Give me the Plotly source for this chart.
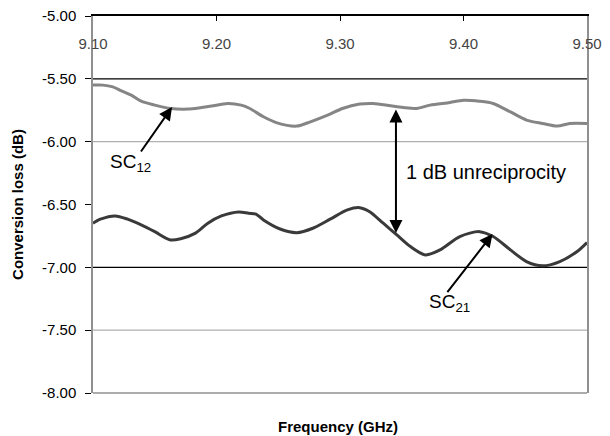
import plotly.graph_objects as go

# ---------------- data ----------------
freq_sc12 = [9.100, 9.108, 9.116, 9.123, 9.131, 9.139, 9.150, 9.163, 9.177, 9.188,
             9.196, 9.209, 9.220, 9.227, 9.238, 9.249, 9.265, 9.276, 9.290, 9.302,
             9.316, 9.327, 9.341, 9.351, 9.362, 9.373, 9.389, 9.400, 9.413, 9.424,
             9.438, 9.451, 9.464, 9.476, 9.486, 9.500]
loss_sc12 = [-5.550, -5.550, -5.564, -5.596, -5.630, -5.678, -5.709, -5.736, -5.741, -5.728,
             -5.717, -5.696, -5.709, -5.736, -5.802, -5.850, -5.876, -5.842, -5.789, -5.736,
             -5.701, -5.696, -5.715, -5.728, -5.736, -5.709, -5.688, -5.670, -5.678, -5.696,
             -5.763, -5.828, -5.855, -5.876, -5.855, -5.855]

freq_sc21 = [9.100, 9.106, 9.118, 9.128, 9.139, 9.150, 9.162, 9.171, 9.183, 9.193,
             9.204, 9.218, 9.226, 9.232, 9.238, 9.252, 9.265, 9.278, 9.292, 9.306,
             9.316, 9.324, 9.335, 9.346, 9.357, 9.369, 9.381, 9.397, 9.413, 9.424,
             9.438, 9.451, 9.464, 9.478, 9.492, 9.500]
loss_sc21 = [-6.649, -6.617, -6.591, -6.617, -6.662, -6.716, -6.780, -6.772, -6.728, -6.649,
             -6.591, -6.559, -6.570, -6.577, -6.623, -6.697, -6.724, -6.689, -6.617, -6.543,
             -6.525, -6.557, -6.649, -6.742, -6.835, -6.901, -6.861, -6.755, -6.716, -6.755,
             -6.861, -6.954, -6.988, -6.954, -6.874, -6.803]

x_ticks = [9.10, 9.20, 9.30, 9.40, 9.50]
x_tick_labels = ["9.10", "9.20", "9.30", "9.40", "9.50"]
y_ticks = [-5.00, -5.50, -6.00, -6.50, -7.00, -7.50, -8.00]
y_tick_labels = ["-5.00", "-5.50", "-6.00", "-6.50", "-7.00", "-7.50", "-8.00"]
dark_grid = [-5.50, -7.00]
light_grid = [-6.00, -7.50]

FONT = "Liberation Sans, Arial, sans-serif"

fig = go.Figure()
fig.add_trace(go.Scatter(x=freq_sc12, y=loss_sc12, mode="lines", name="SC12",
                         line=dict(color="#858585", width=3, shape="spline", smoothing=0.8),
                         showlegend=False))
fig.add_trace(go.Scatter(x=freq_sc21, y=loss_sc21, mode="lines", name="SC21",
                         line=dict(color="#3a3a3a", width=3, shape="spline", smoothing=0.8),
                         showlegend=False))

shapes = []
for g in dark_grid:
    shapes.append(dict(type="line", xref="paper", yref="y", x0=0, x1=1, y0=g, y1=g,
                       line=dict(color="black", width=1.2), layer="below"))
for g in light_grid:
    shapes.append(dict(type="line", xref="paper", yref="y", x0=0, x1=1, y0=g, y1=g,
                       line=dict(color="#b0b0b0", width=1.2), layer="below"))
# bottom frame line (grey)
shapes.append(dict(type="line", xref="paper", yref="paper", x0=0, x1=1, y0=0, y1=0,
                   line=dict(color="#909090", width=1.5)))

annotations = [
    # SC12 arrow + label
    dict(x=9.164, y=-5.725, ax=9.138, ay=-6.09, xref="x", yref="y", axref="x", ayref="y",
         text="", showarrow=True, arrowhead=2, arrowsize=1.3, arrowwidth=2, arrowcolor="black"),
    dict(x=9.130, y=-6.17, xref="x", yref="y", text="SC<sub>12</sub>", showarrow=False,
         font=dict(family=FONT, size=19, color="black")),
    # SC21 arrow + label
    dict(x=9.4235, y=-6.735, ax=9.386, ay=-7.21, xref="x", yref="y", axref="x", ayref="y",
         text="", showarrow=True, arrowhead=2, arrowsize=1.3, arrowwidth=2, arrowcolor="black"),
    dict(x=9.389, y=-7.28, xref="x", yref="y", text="SC<sub>21</sub>", showarrow=False,
         font=dict(family=FONT, size=19, color="black")),
    # double arrow
    dict(x=9.3453, y=-6.726, ax=9.3453, ay=-5.733, xref="x", yref="y", axref="x", ayref="y",
         text="", showarrow=True, arrowhead=2, startarrowhead=2, arrowside="end+start",
         arrowsize=1.3, startarrowsize=1.3, arrowwidth=2, arrowcolor="black"),
    dict(x=9.3515, y=-6.24, xref="x", yref="y", text="1 dB unreciprocity", showarrow=False,
         xanchor="left", font=dict(family=FONT, size=20, color="black")),
]

fig.update_layout(
    width=610, height=436,
    margin=dict(l=93, r=23, t=16, b=43, autoexpand=False),
    paper_bgcolor="white", plot_bgcolor="white",
    font=dict(family=FONT, size=14, color="black"),
    shapes=shapes, annotations=annotations,
    xaxis=dict(range=[9.10, 9.50], side="top", tickvals=x_ticks, ticktext=x_tick_labels,
               ticks="inside", ticklen=5, tickcolor="black", tickwidth=1,
               ticklabelposition="inside", ticklabelstandoff=18, ticklabeloverflow="allow",
               showline=True, linecolor="black", linewidth=1.5, showgrid=False, zeroline=False,
               automargin=False,
               tickfont=dict(family=FONT, size=15),
               title=None),
    yaxis=dict(range=[-8.0, -5.0], tickvals=y_ticks, ticktext=y_tick_labels,
               ticks="outside", ticklen=6, tickcolor="black", tickwidth=1,
               ticklabelstandoff=6, automargin=False,
               showline=True, linecolor="#909090", linewidth=1.5, mirror=True,
               showgrid=False, zeroline=False,
               tickfont=dict(family=FONT, size=15)),
)
fig.add_annotation(x=-0.153, y=0.5, xref="paper", yref="paper", xanchor="center",
                   yanchor="middle", textangle=-90,
                   text="<b>Conversion loss (dB)</b>", showarrow=False,
                   font=dict(family=FONT, size=15, color="black"))
fig.add_annotation(x=0.496, y=-0.088, xref="paper", yref="paper", yanchor="middle",
                   text="<b>Frequency (GHz)</b>", showarrow=False,
                   font=dict(family=FONT, size=15, color="black"))

fig.write_html("out.html", config={"displayModeBar": False},
               post_script="document.body.style.margin='0px';document.body.style.overflow='hidden';")
